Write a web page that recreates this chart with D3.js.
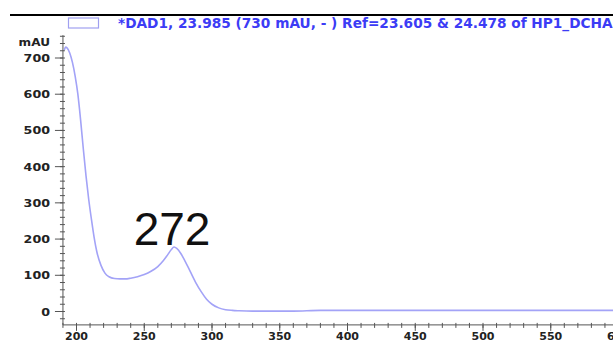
<!DOCTYPE html>
<html>
<head>
<meta charset="utf-8">
<script src="https://cdn.jsdelivr.net/npm/d3@7/dist/d3.min.js"></script>
<style>
  html, body { margin: 0; padding: 0; background: #fff; }
  svg { display: block; }
</style>
</head>
<body>
<svg id="chart" width="613" height="342"></svg>
<script>
// UV spectrum of the peak at 23.985 min (DAD1)
const wavelength = [191, 192, 193, 195, 197, 199, 201, 203, 205, 207, 209, 211, 213, 215, 218, 221, 224, 228, 232, 236,
  240, 245, 250, 255, 260, 264, 267, 270, 272, 274, 277, 280, 284, 288, 292, 296, 300, 305, 310, 315,
  320, 330, 340, 360, 380, 400, 450, 500, 550, 600, 620];
const absorbance = [722, 730, 728, 714, 688, 650, 600, 530, 450, 375, 310, 255, 205, 165, 128, 106, 96, 91, 90, 90,
  92, 96, 102, 111, 124, 140, 155, 171, 178, 174, 160, 140, 110, 80, 55, 34, 20, 10, 5, 3,
  2, 1, 1, 1, 3, 3, 3, 3, 3, 3, 3];
const xTickValues = [200, 250, 300, 350, 400, 450, 500, 550, 600];
const yTickValues = [0, 100, 200, 300, 400, 500, 600, 700];
const yUnit = "mAU";
const legendText = "*DAD1, 23.985 (730 mAU, - ) Ref=23.605 & 24.478 of HP1_DCHA.D";
const peakLabel = "272";
const peakWavelength = 272;

const svg = d3.select("#chart");

const x = d3.scaleLinear().domain([200, 600]).range([76.5, 618.5]);
const y = d3.scaleLinear().domain([0, 700]).range([311.5, 58]);

const axisColor = "#555";
const labelFont = "'DejaVu Sans', sans-serif";

// header rule and legend
svg.append("line").attr("x1", 10).attr("x2", 613).attr("y1", 15).attr("y2", 15)
  .attr("stroke", "#000").attr("stroke-width", 2);
svg.append("rect").attr("x", 68.5).attr("y", 18).attr("width", 30).attr("height", 10)
  .attr("fill", "none").attr("stroke", "#a0a0f0").attr("stroke-width", 1.2);
svg.append("text").attr("x", 118).attr("y", 27.5)
  .attr("font-family", labelFont).attr("font-weight", "bold").attr("font-size", 13.7)
  .attr("fill", "#3c3cf5").text(legendText);

// axes
const xMin = 190, xMax = 620, yMin = -37, yMax = 763;
const yAxisX = x(xMin), xAxisY = y(yMin);

svg.append("line").attr("x1", yAxisX).attr("x2", yAxisX).attr("y1", y(yMax)).attr("y2", xAxisY)
  .attr("stroke", axisColor).attr("stroke-width", 1);
svg.append("line").attr("x1", yAxisX).attr("x2", 613).attr("y1", xAxisY).attr("y2", xAxisY)
  .attr("stroke", axisColor).attr("stroke-width", 1);

// y minor ticks every 20 mAU, major every 100
const yMinor = d3.range(-20, yMax, 20);
svg.append("g").selectAll("line").data(yMinor).join("line")
  .attr("x1", yAxisX - 3).attr("x2", yAxisX + 2)
  .attr("y1", d => y(d)).attr("y2", d => y(d))
  .attr("stroke", axisColor).attr("stroke-width", 1);
svg.append("g").selectAll("line").data(yTickValues).join("line")
  .attr("x1", yAxisX - 8).attr("x2", yAxisX)
  .attr("y1", d => y(d)).attr("y2", d => y(d))
  .attr("stroke", axisColor).attr("stroke-width", 1);
svg.append("g").selectAll("text").data(yTickValues).join("text")
  .attr("transform", d => `translate(50,${y(d) + 4}) scale(1.15,1)`)
  .attr("text-anchor", "end")
  .attr("font-family", labelFont).attr("font-weight", "bold").attr("font-size", 11)
  .attr("fill", "#222").text(d => d);
svg.append("text").attr("transform", "translate(50,46) scale(1.1,1)")
  .attr("text-anchor", "end")
  .attr("font-family", labelFont).attr("font-weight", "bold").attr("font-size", 11)
  .attr("fill", "#222").text(yUnit);

// x minor ticks every 10 nm, major every 50
const xMinor = d3.range(xMin, xMax + 1, 10);
svg.append("g").selectAll("line").data(xMinor).join("line")
  .attr("x1", d => x(d)).attr("x2", d => x(d))
  .attr("y1", xAxisY - 2).attr("y2", xAxisY + 3)
  .attr("stroke", axisColor).attr("stroke-width", 1);
svg.append("g").selectAll("line").data(xTickValues).join("line")
  .attr("x1", d => x(d)).attr("x2", d => x(d))
  .attr("y1", xAxisY).attr("y2", xAxisY + 6)
  .attr("stroke", axisColor).attr("stroke-width", 1);
svg.append("g").selectAll("text").data(xTickValues).join("text")
  .attr("x", d => x(d)).attr("y", 340)
  .attr("text-anchor", "middle")
  .attr("font-family", labelFont).attr("font-weight", "bold").attr("font-size", 11)
  .attr("fill", "#222").text(d => d);

// spectrum trace
const line = d3.line()
  .x((d, i) => x(wavelength[i]))
  .y(d => y(d))
  .curve(d3.curveMonotoneX);
svg.append("path").datum(absorbance)
  .attr("d", line)
  .attr("fill", "none").attr("stroke", "#a3a3f7").attr("stroke-width", 1.6);

// peak annotation
const peakIdx = wavelength.indexOf(peakWavelength);
svg.append("text")
  .attr("x", x(peakWavelength) - 2)
  .attr("y", y(absorbance[peakIdx]) - 2)
  .attr("text-anchor", "middle")
  .attr("font-family", "'Liberation Sans', Arial, sans-serif").attr("font-size", 46)
  .attr("fill", "#111").text(peakLabel);
</script>
</body>
</html>
